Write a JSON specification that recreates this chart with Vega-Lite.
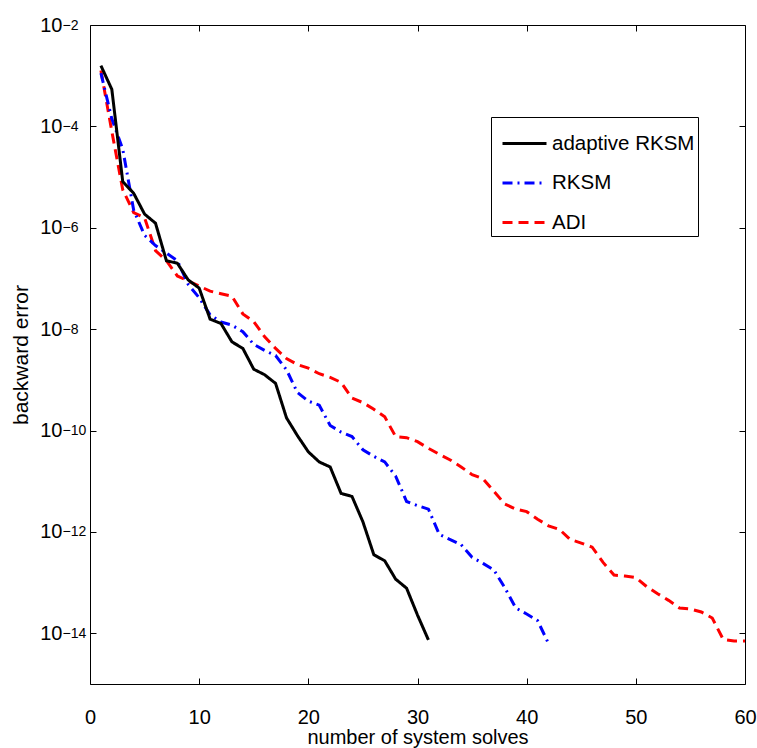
{
  "$schema": "https://vega.github.io/schema/vega-lite/v6.json",
  "width": 655,
  "height": 659,
  "autosize": {"type": "none"},
  "padding": {"left": 90, "top": 25, "right": 12, "bottom": 64},
  "background": "white",
  "config": {
    "font": "Liberation Sans",
    "view": {"stroke": "black", "strokeWidth": 1},
    "axis": {
      "grid": false,
      "domain": false,
      "tickColor": "black",
      "tickWidth": 1,
      "labelColor": "black",
      "titleColor": "black",
      "labelFont": "Liberation Sans",
      "titleFont": "Liberation Sans",
      "titleFontWeight": "normal",
      "labelFlush": false,
      "labelOverlap": false
    }
  },
  "data": {
    "values": [
      {"method": "ADI", "n": 1, "err": 1.26e-3},
      {"method": "ADI", "n": 2, "err": 7.94e-5},
      {"method": "ADI", "n": 3, "err": 5.62e-6},
      {"method": "ADI", "n": 4, "err": 2.0e-6},
      {"method": "ADI", "n": 5, "err": 1.58e-6},
      {"method": "ADI", "n": 6, "err": 3.55e-7},
      {"method": "ADI", "n": 7, "err": 2.24e-7},
      {"method": "ADI", "n": 8, "err": 1.12e-7},
      {"method": "ADI", "n": 9, "err": 8.91e-8},
      {"method": "ADI", "n": 10, "err": 7.08e-8},
      {"method": "ADI", "n": 11, "err": 5.62e-8},
      {"method": "ADI", "n": 12, "err": 5.01e-8},
      {"method": "ADI", "n": 13, "err": 4.47e-8},
      {"method": "ADI", "n": 14, "err": 2.0e-8},
      {"method": "ADI", "n": 15, "err": 1.41e-8},
      {"method": "ADI", "n": 16, "err": 7.08e-9},
      {"method": "ADI", "n": 17, "err": 4.17e-9},
      {"method": "ADI", "n": 18, "err": 2.63e-9},
      {"method": "ADI", "n": 19, "err": 2.0e-9},
      {"method": "ADI", "n": 20, "err": 1.70e-9},
      {"method": "ADI", "n": 21, "err": 1.32e-9},
      {"method": "ADI", "n": 22, "err": 1.12e-9},
      {"method": "ADI", "n": 23, "err": 8.91e-10},
      {"method": "ADI", "n": 24, "err": 4.37e-10},
      {"method": "ADI", "n": 25, "err": 3.55e-10},
      {"method": "ADI", "n": 26, "err": 2.63e-10},
      {"method": "ADI", "n": 27, "err": 1.86e-10},
      {"method": "ADI", "n": 28, "err": 7.59e-11},
      {"method": "ADI", "n": 29, "err": 7.24e-11},
      {"method": "ADI", "n": 30, "err": 6.03e-11},
      {"method": "ADI", "n": 31, "err": 4.47e-11},
      {"method": "ADI", "n": 32, "err": 3.39e-11},
      {"method": "ADI", "n": 33, "err": 2.63e-11},
      {"method": "ADI", "n": 34, "err": 1.91e-11},
      {"method": "ADI", "n": 35, "err": 1.35e-11},
      {"method": "ADI", "n": 36, "err": 1.12e-11},
      {"method": "ADI", "n": 37, "err": 6.31e-12},
      {"method": "ADI", "n": 38, "err": 3.55e-12},
      {"method": "ADI", "n": 39, "err": 2.82e-12},
      {"method": "ADI", "n": 40, "err": 2.51e-12},
      {"method": "ADI", "n": 41, "err": 1.78e-12},
      {"method": "ADI", "n": 42, "err": 1.32e-12},
      {"method": "ADI", "n": 43, "err": 1.12e-12},
      {"method": "ADI", "n": 44, "err": 7.08e-13},
      {"method": "ADI", "n": 45, "err": 6.03e-13},
      {"method": "ADI", "n": 46, "err": 5.01e-13},
      {"method": "ADI", "n": 47, "err": 2.51e-13},
      {"method": "ADI", "n": 48, "err": 1.41e-13},
      {"method": "ADI", "n": 49, "err": 1.35e-13},
      {"method": "ADI", "n": 50, "err": 1.26e-13},
      {"method": "ADI", "n": 51, "err": 8.32e-14},
      {"method": "ADI", "n": 52, "err": 6.03e-14},
      {"method": "ADI", "n": 53, "err": 4.47e-14},
      {"method": "ADI", "n": 54, "err": 3.16e-14},
      {"method": "ADI", "n": 55, "err": 3.02e-14},
      {"method": "ADI", "n": 56, "err": 2.63e-14},
      {"method": "ADI", "n": 57, "err": 2.0e-14},
      {"method": "ADI", "n": 58, "err": 7.59e-15},
      {"method": "ADI", "n": 59, "err": 7.08e-15},
      {"method": "ADI", "n": 60, "err": 7.08e-15},
      {"method": "RKSM", "n": 1, "err": 1.12e-3},
      {"method": "RKSM", "n": 2, "err": 1.41e-4},
      {"method": "RKSM", "n": 3, "err": 3.55e-5},
      {"method": "RKSM", "n": 4, "err": 2.24e-6},
      {"method": "RKSM", "n": 5, "err": 7.08e-7},
      {"method": "RKSM", "n": 6, "err": 4.47e-7},
      {"method": "RKSM", "n": 7, "err": 3.16e-7},
      {"method": "RKSM", "n": 8, "err": 2.24e-7},
      {"method": "RKSM", "n": 9, "err": 7.59e-8},
      {"method": "RKSM", "n": 10, "err": 4.17e-8},
      {"method": "RKSM", "n": 11, "err": 1.91e-8},
      {"method": "RKSM", "n": 12, "err": 1.38e-8},
      {"method": "RKSM", "n": 13, "err": 1.20e-8},
      {"method": "RKSM", "n": 14, "err": 8.91e-9},
      {"method": "RKSM", "n": 15, "err": 5.01e-9},
      {"method": "RKSM", "n": 16, "err": 3.80e-9},
      {"method": "RKSM", "n": 17, "err": 3.02e-9},
      {"method": "RKSM", "n": 18, "err": 1.58e-9},
      {"method": "RKSM", "n": 19, "err": 5.62e-10},
      {"method": "RKSM", "n": 20, "err": 3.80e-10},
      {"method": "RKSM", "n": 21, "err": 3.16e-10},
      {"method": "RKSM", "n": 22, "err": 1.26e-10},
      {"method": "RKSM", "n": 23, "err": 9.33e-11},
      {"method": "RKSM", "n": 24, "err": 7.59e-11},
      {"method": "RKSM", "n": 25, "err": 4.17e-11},
      {"method": "RKSM", "n": 26, "err": 3.09e-11},
      {"method": "RKSM", "n": 27, "err": 2.40e-11},
      {"method": "RKSM", "n": 28, "err": 1.26e-11},
      {"method": "RKSM", "n": 29, "err": 3.98e-12},
      {"method": "RKSM", "n": 30, "err": 3.31e-12},
      {"method": "RKSM", "n": 31, "err": 2.82e-12},
      {"method": "RKSM", "n": 32, "err": 8.91e-13},
      {"method": "RKSM", "n": 33, "err": 7.08e-13},
      {"method": "RKSM", "n": 34, "err": 5.62e-13},
      {"method": "RKSM", "n": 35, "err": 3.16e-13},
      {"method": "RKSM", "n": 36, "err": 2.40e-13},
      {"method": "RKSM", "n": 37, "err": 1.78e-13},
      {"method": "RKSM", "n": 38, "err": 7.94e-14},
      {"method": "RKSM", "n": 39, "err": 3.16e-14},
      {"method": "RKSM", "n": 40, "err": 2.40e-14},
      {"method": "RKSM", "n": 41, "err": 1.78e-14},
      {"method": "RKSM", "n": 42, "err": 6.31e-15},
      {"method": "adaptive RKSM", "n": 1, "err": 1.58e-3},
      {"method": "adaptive RKSM", "n": 2, "err": 5.37e-4},
      {"method": "adaptive RKSM", "n": 3, "err": 8.13e-6},
      {"method": "adaptive RKSM", "n": 4, "err": 4.79e-6},
      {"method": "adaptive RKSM", "n": 5, "err": 1.86e-6},
      {"method": "adaptive RKSM", "n": 6, "err": 1.23e-6},
      {"method": "adaptive RKSM", "n": 7, "err": 2.24e-7},
      {"method": "adaptive RKSM", "n": 8, "err": 2.0e-7},
      {"method": "adaptive RKSM", "n": 9, "err": 9.33e-8},
      {"method": "adaptive RKSM", "n": 10, "err": 6.46e-8},
      {"method": "adaptive RKSM", "n": 11, "err": 1.58e-8},
      {"method": "adaptive RKSM", "n": 12, "err": 1.29e-8},
      {"method": "adaptive RKSM", "n": 13, "err": 5.62e-9},
      {"method": "adaptive RKSM", "n": 14, "err": 4.17e-9},
      {"method": "adaptive RKSM", "n": 15, "err": 1.62e-9},
      {"method": "adaptive RKSM", "n": 16, "err": 1.26e-9},
      {"method": "adaptive RKSM", "n": 17, "err": 8.51e-10},
      {"method": "adaptive RKSM", "n": 18, "err": 1.78e-10},
      {"method": "adaptive RKSM", "n": 19, "err": 7.94e-11},
      {"method": "adaptive RKSM", "n": 20, "err": 3.80e-11},
      {"method": "adaptive RKSM", "n": 21, "err": 2.40e-11},
      {"method": "adaptive RKSM", "n": 22, "err": 1.91e-11},
      {"method": "adaptive RKSM", "n": 23, "err": 5.75e-12},
      {"method": "adaptive RKSM", "n": 24, "err": 5.01e-12},
      {"method": "adaptive RKSM", "n": 25, "err": 1.58e-12},
      {"method": "adaptive RKSM", "n": 26, "err": 3.55e-13},
      {"method": "adaptive RKSM", "n": 27, "err": 2.69e-13},
      {"method": "adaptive RKSM", "n": 28, "err": 1.17e-13},
      {"method": "adaptive RKSM", "n": 29, "err": 7.76e-14},
      {"method": "adaptive RKSM", "n": 30, "err": 2.29e-14},
      {"method": "adaptive RKSM", "n": 31, "err": 7.41e-15}
    ]
  },
  "layer": [
    {
      "mark": {"type": "line", "strokeWidth": 3, "clip": true},
      "encoding": {
        "x": {
          "field": "n", "type": "quantitative",
          "scale": {"domain": [0, 60], "nice": false, "zero": false},
          "axis": {
            "orient": "bottom", "values": [0, 10, 20, 30, 40, 50, 60],
            "tickSize": -6, "labelFontSize": 20, "labelPadding": 29,
            "title": "number of system solves", "titleFontSize": 20, "titlePadding": 0
          }
        },
        "y": {
          "field": "err", "type": "quantitative",
          "scale": {"type": "log", "domain": [1e-15, 1e-2], "nice": false},
          "axis": {
            "orient": "left",
            "values": [1e-14, 1e-12, 1e-10, 1e-8, 1e-6, 1e-4, 1e-2],
            "tickSize": -6, "labelExpr": "'10'", "labelFontSize": 20,
            "labelPadding": 34, "labelAlign": "right", "labelBaseline": "middle",
            "title": "backward error", "titleFontSize": 21, "titlePadding": 8
          }
        },
        "color": {
          "field": "method", "type": "nominal",
          "scale": {"domain": ["adaptive RKSM", "RKSM", "ADI"], "range": ["#000000", "#0000ff", "#ff0000"]},
          "legend": {
            "title": null, "orient": "none", "legendX": 401, "legendY": 92,
            "strokeColor": "black", "fillColor": "white", "padding": 3,
            "symbolType": "stroke", "symbolSize": 1936, "symbolStrokeWidth": 3,
            "labelFontSize": 20.5, "labelColor": "black", "rowPadding": 5.5,
            "labelOffset": 4, "symbolOffset": 7, "labelLimit": 300
          }
        },
        "strokeDash": {
          "field": "method", "type": "nominal",
          "scale": {"domain": ["adaptive RKSM", "RKSM", "ADI"], "range": [[1, 0], [10, 5, 2, 5], [10, 6]]},
          "legend": {
            "title": null, "orient": "none", "legendX": 401, "legendY": 92,
            "strokeColor": "black", "fillColor": "white", "padding": 3,
            "symbolType": "stroke", "symbolSize": 1936, "symbolStrokeWidth": 3,
            "labelFontSize": 20.5, "labelColor": "black", "rowPadding": 5.5,
            "labelOffset": 4, "symbolOffset": 7, "labelLimit": 300
          }
        }
      }
    },
    {
      "mark": {"type": "point", "opacity": 0},
      "encoding": {
        "x": {
          "field": "n", "type": "quantitative",
          "scale": {"domain": [0, 60], "nice": false, "zero": false},
          "axis": {"orient": "top", "values": [10, 20, 30, 40, 50], "tickSize": -6, "labels": false, "title": null}
        },
        "y": {
          "field": "err", "type": "quantitative",
          "scale": {"type": "log", "domain": [1e-15, 1e-2], "nice": false},
          "axis": {
            "orient": "left",
            "values": [1e-14, 1e-12, 1e-10, 1e-8, 1e-6, 1e-4, 1e-2],
            "ticks": false,
            "labelExpr": "'−' + format(-round(log(datum.value)/LN10), 'd')",
            "labelFontSize": 14, "labelAlign": "left", "labelBaseline": "middle",
            "labelPadding": 28, "labelDy": -10, "title": null
          }
        }
      }
    },
    {
      "mark": {"type": "point", "opacity": 0},
      "encoding": {
        "x": {
          "field": "n", "type": "quantitative",
          "scale": {"domain": [0, 60], "nice": false, "zero": false},
          "axis": null
        },
        "y": {
          "field": "err", "type": "quantitative",
          "scale": {"type": "log", "domain": [1e-15, 1e-2], "nice": false},
          "axis": {
            "orient": "right",
            "values": [1e-14, 1e-12, 1e-10, 1e-8, 1e-6, 1e-4, 1e-2],
            "tickSize": -6, "labels": false, "title": null
          }
        }
      }
    }
  ],
  "resolve": {
    "scale": {"x": "independent", "y": "independent"},
    "axis": {"x": "independent", "y": "independent"}
  }
}
